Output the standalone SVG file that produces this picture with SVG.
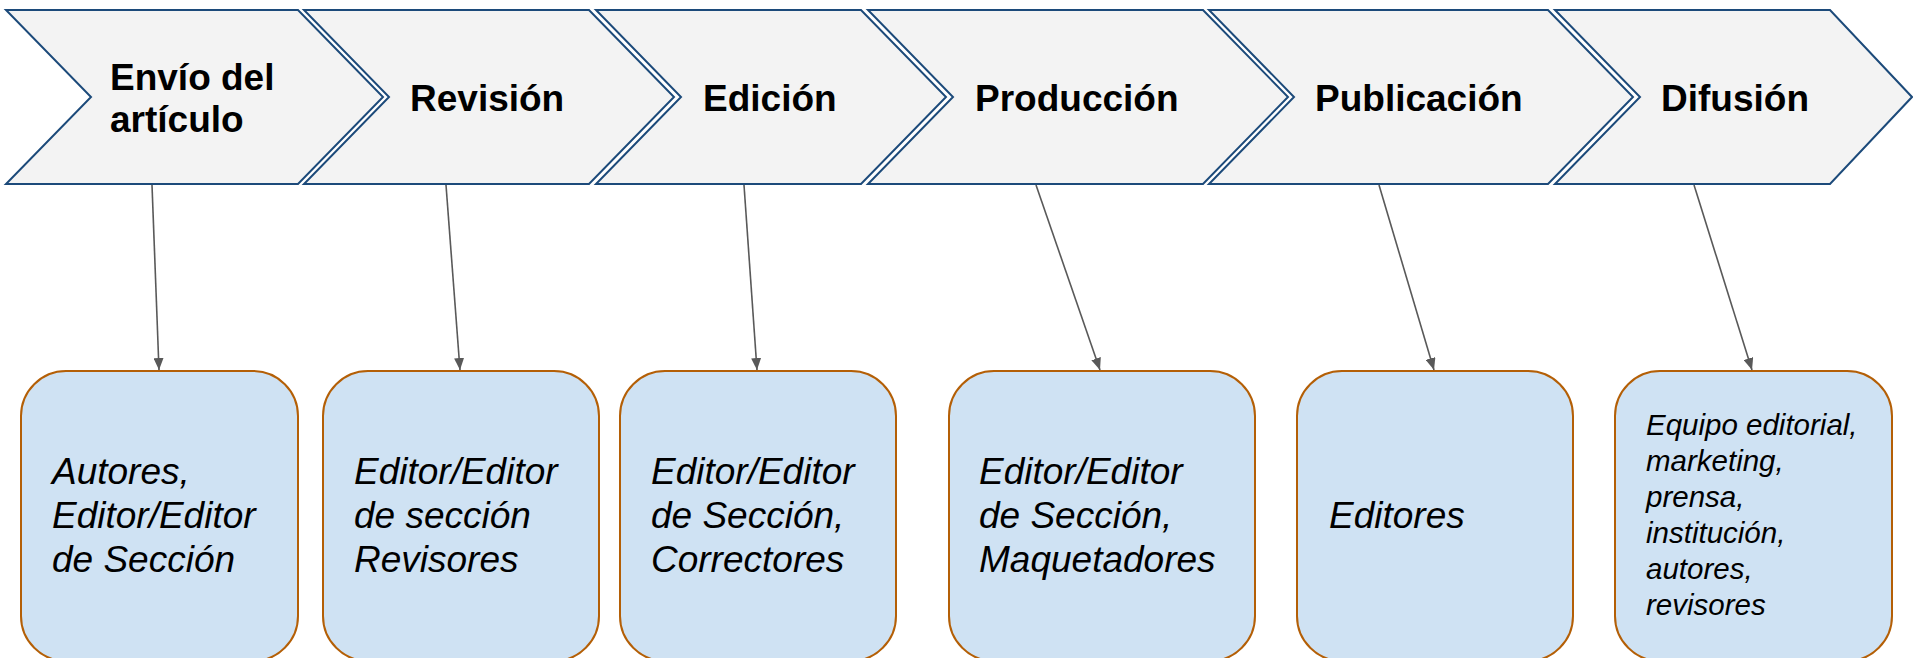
<svg xmlns="http://www.w3.org/2000/svg" width="1913" height="658" viewBox="0 0 1913 658">
<defs>
<style>
.chev{fill:#f3f3f3;stroke:#1c4a7a;stroke-width:2;stroke-linejoin:miter}
.box{fill:#cfe2f3;stroke:#b45f06;stroke-width:2}
.t{font-family:"Liberation Sans",Arial,sans-serif;font-weight:bold;font-size:37px;fill:#000}
.b{font-family:"Liberation Sans",Arial,sans-serif;font-style:italic;font-size:37px;fill:#000}
.s{font-family:"Liberation Sans",Arial,sans-serif;font-style:italic;font-size:29.5px;fill:#000}
.c{stroke:#595959;stroke-width:1.6;fill:none;marker-end:url(#ah)}
</style>
<marker id="ah" markerWidth="12" markerHeight="10" refX="12" refY="5" orient="auto" markerUnits="userSpaceOnUse">
<path d="M0,0 L12,5 L0,10 Z" fill="#595959"/>
</marker>
</defs>
<rect width="1913" height="658" fill="#ffffff"/>
<g id="step1"><path class="chev" d="M6,10 L298,10 L383,97 L298,184 L6,184 L91,97 Z"/><text class="t" x="110" y="90">Envío del</text><text class="t" x="110" y="132">artículo</text></g>
<g id="step2"><path class="chev" d="M304,10 L589,10 L674,97 L589,184 L304,184 L389,97 Z"/><text class="t" x="410" y="111">Revisión</text></g>
<g id="step3"><path class="chev" d="M596,10 L861,10 L946,97 L861,184 L596,184 L681,97 Z"/><text class="t" x="703" y="111">Edición</text></g>
<g id="step4"><path class="chev" d="M868,10 L1203,10 L1288,97 L1203,184 L868,184 L953,97 Z"/><text class="t" x="975" y="111">Producción</text></g>
<g id="step5"><path class="chev" d="M1209,10 L1548,10 L1633,97 L1548,184 L1209,184 L1294,97 Z"/><text class="t" x="1315" y="111">Publicación</text></g>
<g id="step6"><path class="chev" d="M1555,10 L1830,10 L1912,97 L1830,184 L1555,184 L1640,97 Z"/><text class="t" x="1661" y="111">Difusión</text></g>

<g id="role1"><rect class="box" x="21" y="371" width="277" height="290" rx="45" ry="45"/><text class="b" x="52" y="484">Autores,</text><text class="b" x="52" y="528">Editor/Editor</text><text class="b" x="52" y="572">de Sección</text></g>
<g id="role2"><rect class="box" x="323" y="371" width="276" height="290" rx="45" ry="45"/><text class="b" x="354" y="484">Editor/Editor</text><text class="b" x="354" y="528">de sección</text><text class="b" x="354" y="572">Revisores</text></g>
<g id="role3"><rect class="box" x="620" y="371" width="276" height="290" rx="45" ry="45"/><text class="b" x="651" y="484">Editor/Editor</text><text class="b" x="651" y="528">de Sección,</text><text class="b" x="651" y="572">Correctores</text></g>
<g id="role4"><rect class="box" x="949" y="371" width="306" height="290" rx="45" ry="45"/><text class="b" x="979" y="484">Editor/Editor</text><text class="b" x="979" y="528">de Sección,</text><text class="b" x="979" y="572">Maquetadores</text></g>
<g id="role5"><rect class="box" x="1297" y="371" width="276" height="290" rx="45" ry="45"/><text class="b" x="1329" y="528">Editores</text></g>
<g id="role6"><rect class="box" x="1615" y="371" width="277" height="290" rx="45" ry="45"/><text class="s" x="1646" y="435">Equipo editorial,</text><text class="s" x="1646" y="471">marketing,</text><text class="s" x="1646" y="507">prensa,</text><text class="s" x="1646" y="543">institución,</text><text class="s" x="1646" y="579">autores,</text><text class="s" x="1646" y="615">revisores</text></g>

<g id="connectors">
<line class="c" x1="152" y1="185" x2="159" y2="370"/>
<line class="c" x1="446" y1="185" x2="460" y2="370"/>
<line class="c" x1="744" y1="185" x2="757" y2="370"/>
<line class="c" x1="1036" y1="185" x2="1100" y2="370"/>
<line class="c" x1="1379" y1="185" x2="1434" y2="370"/>
<line class="c" x1="1694" y1="185" x2="1752" y2="370"/>
</g>
</svg>
